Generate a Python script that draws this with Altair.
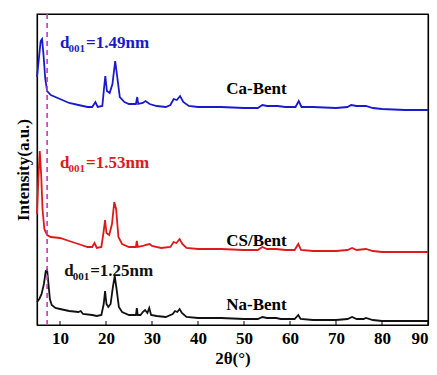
import altair as alt
import pandas as pd

# Na-Bent (black)
na_x = [5.0, 5.5, 6.0, 6.5, 6.9, 7.2, 7.5, 7.8, 8.2, 9, 10, 12, 14, 14.5, 15, 17, 18, 19, 19.5, 19.8, 20.1, 20.5,
        21, 21.5, 21.9, 22.3, 22.8, 23.5, 25, 26.5, 26.7, 26.9, 27.5, 28, 28.5, 29, 29.4, 29.8, 31, 33, 34.5, 35,
        35.5, 36, 36.5, 37.5, 40, 45, 50, 53, 54, 55, 57, 58, 61, 61.8, 62.3, 65, 70, 72.5, 73.5, 74.5, 76, 76.5,
        78, 80, 85, 90]
na_y = [23, 26, 31, 41, 54, 55, 41, 26, 20, 17, 16, 14, 13, 14, 11, 10, 9, 10, 21, 34, 21, 18,
        21, 38, 49, 36, 18, 13, 10, 10, 17, 10, 10, 13, 15, 12, 17, 10, 9, 8, 11, 14,
        13, 16, 12, 8, 7, 7, 6, 6, 8, 7, 7, 6, 6, 10, 6, 5, 5, 6, 8, 6, 6, 7,
        5, 4, 4, 4]

# CS/Bent (red)
cs_x = [5.0, 5.3, 5.6, 5.9, 6.2, 6.6, 7.2, 8, 10, 12, 14, 16, 17, 17.5, 18, 19, 19.5, 19.8, 20.1, 20.7, 21.3,
        21.8, 22.2, 22.7, 23.5, 25, 26.5, 26.7, 26.9, 28, 28.5, 29.5, 30, 32, 34, 34.7, 35.3, 36, 36.6, 37.5, 40,
        45, 50, 53, 54, 55, 57, 59, 61, 61.8, 62.4, 65, 70, 72.5, 73.5, 74.5, 76.5, 78, 80, 85, 90]
cs_y = [111, 146, 174, 151, 116, 96, 90, 88, 87, 84, 81, 78, 78, 82, 77, 78, 94, 105, 92, 90, 101,
        123, 116, 88, 81, 78, 78, 84, 78, 79, 80, 81, 79, 77, 78, 83, 82, 86, 81, 77, 76,
        76, 75, 75, 78, 76, 76, 75, 75, 81, 75, 74, 74, 75, 77, 75, 76, 74, 73, 73, 73]

# Ca-Bent (blue)
ca_x = [5.0, 5.4, 5.8, 6.1, 6.4, 6.8, 7.2, 8, 10, 12, 14, 16, 17.0, 17.7, 18.2, 19.2, 19.6, 19.85, 20.2, 20.8,
        21.4, 22.0, 22.5, 23.0, 24, 25, 26.5, 26.8, 27.0, 28, 28.6, 29.5, 31, 33, 34, 34.7, 35.4, 36.1, 36.8, 38,
        40, 45, 50, 53, 54, 55, 57.3, 59, 61.2, 61.9, 62.5, 65, 70, 72.5, 73.3, 74.5, 76.5, 78, 80, 85, 90]
ca_y = [248, 266, 284, 286, 271, 246, 234, 230, 226, 222, 220, 218, 218, 223, 218, 219, 238, 249, 234, 232,
        241, 264, 246, 228, 223, 221, 221, 228, 221, 222, 224, 221, 219, 218, 220, 226, 225, 229, 223, 219,
        218, 218, 217, 217, 220, 219, 219, 218, 218, 224, 218, 218, 217, 218, 220, 219, 219, 217, 216, 215, 215]

series_names = ["Na-Bent", "CS/Bent", "Ca-Bent"]
series_colors = ["#111111", "#dd1a1a", "#1a1acc"]

x_ticks = [10, 20, 30, 40, 50, 60, 70, 80, 90]
x_range = [5, 90]
y_range = [0, 311]
d_line_x = 7.2

label_names = ["Ca-Bent", "CS/Bent", "Na-Bent"]
label_x = [52.7, 52.7, 52.7]
label_y = [236, 84, 20]

d_main = ["d", "d", "d"]
d_sub = ["001", "001", "001"]
d_val = ["=1.49nm", "=1.53nm", "=1.25nm"]
d_x = [10.0, 10.0, 10.9]
d_y = [283, 163, 55]
d_colors = ["#1a1acc", "#dd1a1a", "#111111"]

rows = []
for name, xs_, ys_ in [("Na-Bent", na_x, na_y), ("CS/Bent", cs_x, cs_y), ("Ca-Bent", ca_x, ca_y)]:
    for i, (a, b) in enumerate(zip(xs_, ys_)):
        rows.append({"series": name, "x": a, "y": b, "o": i})
df = pd.DataFrame(rows)

FONT = "Liberation Serif"
xs = alt.Scale(domain=x_range, nice=False, zero=False)
ys = alt.Scale(domain=y_range, nice=False, zero=False)

frame_axis_top = alt.Axis(orient="top", labels=False, ticks=False, title=None, grid=False,
                          domainColor="black", domainWidth=1.2)
frame_axis_right = alt.Axis(orient="right", labels=False, ticks=False, title=None, grid=False,
                            domainColor="black", domainWidth=1.2)


def X(field):
    return alt.X(field, scale=xs, axis=None)


def Y(field):
    return alt.Y(field, scale=ys, axis=None)


lines = alt.Chart(df).mark_line(strokeWidth=1.8).encode(
    x=alt.X("x:Q", scale=xs, axis=alt.Axis(values=x_ticks, title="2θ(°)", titleFont=FONT, titleFontSize=17,
                                           titleFontWeight="bold", titleColor="black", labelFont=FONT,
                                           labelFontSize=17, labelFontWeight="bold", labelColor="black",
                                           ticks=False, grid=False, domainColor="black", domainWidth=1.2,
                                           labelPadding=5, titlePadding=4)),
    y=alt.Y("y:Q", scale=ys, axis=alt.Axis(title="Intensity(a.u.)", titleFont=FONT, titleFontSize=17,
                                           titleFontWeight="bold", titleColor="black", labels=False,
                                           ticks=False, grid=False, domainColor="black", domainWidth=1.2,
                                           titlePadding=5)),
    color=alt.Color("series:N", scale=alt.Scale(domain=series_names, range=series_colors), legend=None),
    order="o:Q",
)

tick_df = pd.DataFrame({"x": x_ticks})
ticks = alt.Chart(tick_df).mark_rule(color="black", strokeWidth=1).encode(
    x=alt.X("x:Q", scale=xs, axis=frame_axis_top), y=alt.value(311), y2=alt.value(307)
)

vline = alt.Chart(pd.DataFrame({"x": [d_line_x]})).mark_rule(
    color="#cc33cc", strokeWidth=1.6, strokeDash=[5, 4]
).encode(x=X("x:Q"), y=alt.value(0), y2=alt.value(311))

lab_df = pd.DataFrame({"t": label_names, "x": label_x, "y": label_y})
labels = alt.Chart(lab_df).mark_text(font=FONT, fontSize=17, fontWeight="bold", color="black").encode(
    x=X("x:Q"), y=alt.Y("y:Q", scale=ys, axis=frame_axis_right), text="t:N"
)

ddf = pd.DataFrame({"m": d_main, "s": d_sub, "v": d_val, "x": d_x, "y": d_y, "c": d_colors})
cscale = alt.Scale(domain=d_colors, range=d_colors)
d1 = alt.Chart(ddf).mark_text(font=FONT, fontSize=17, fontWeight="bold", align="left", baseline="alphabetic",
                              dy=6).encode(
    x=X("x:Q"), y=Y("y:Q"), text="m:N",
    color=alt.Color("c:N", scale=cscale, legend=None))
d2 = alt.Chart(ddf).mark_text(font=FONT, fontSize=11, fontWeight="bold", align="left", baseline="alphabetic",
                              dx=8.5, dy=10).encode(
    x=X("x:Q"), y=Y("y:Q"), text="s:N",
    color=alt.Color("c:N", scale=cscale, legend=None))
d3 = alt.Chart(ddf).mark_text(font=FONT, fontSize=17, fontWeight="bold", align="left", baseline="alphabetic",
                              dx=26, dy=6).encode(
    x=X("x:Q"), y=Y("y:Q"), text="v:N",
    color=alt.Color("c:N", scale=cscale, legend=None))

chart = alt.layer(lines, ticks, vline, labels, d1, d2, d3).resolve_scale(
    color="independent").resolve_axis(x="independent", y="independent").properties(
    width=391, height=311,
    autosize=alt.AutoSizeParams(type="none"),
    padding={"left": 37, "top": 14, "right": 9, "bottom": 50},
    background="white",
).configure_view(stroke="black", strokeWidth=1.3)

chart.save("out.html", embed_options={"renderer": "svg", "actions": False})
